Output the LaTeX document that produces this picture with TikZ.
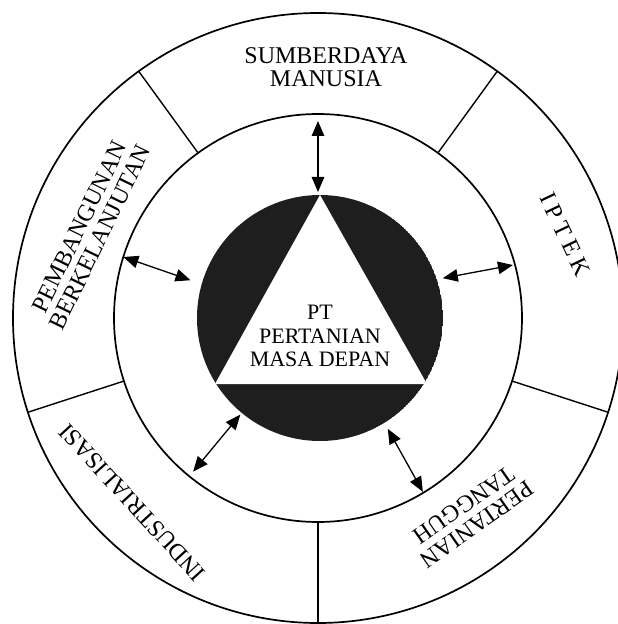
\documentclass[tikz,border=0pt]{standalone}
\usepackage{fontspec}
\setmainfont{Liberation Serif}
\newfontfamily\spacedfont[LetterSpace=22]{Liberation Serif}
\usetikzlibrary{arrows.meta}
\definecolor{CoreDark}{HTML}{1E1E1E}

\begin{document}
\begin{tikzpicture}[x=1pt, y=1pt,
    ringline/.style={line width=1.7pt, draw=black},
    divider/.style={line width=1.4pt, draw=black},
    segtext/.style={align=center, inner sep=0pt, font=\fontsize{24}{23}\selectfont},
    coretext/.style={align=center, inner sep=0pt, font=\fontsize{22}{23.5}\selectfont},
    arrow/.style={{Triangle[length=15pt,width=12.5pt]}-{Triangle[length=15pt,width=12.5pt]},
                  line width=1.3pt, draw=black}
]
\useasboundingbox (-318,-306) rectangle (300,318);

% rings and segment borders
\draw[ringline] (0,0) circle[radius=305];
\draw[ringline] (0,0) circle[radius=204];
\foreach \a in {54,126,198,270,342}
  \draw[divider] (\a:204) -- (\a:305);

% dark disc with white triangle
\begin{scope}
  \clip (2,0) circle[radius=123];
  \fill[CoreDark] (2,0) circle[radius=123];
  \fill[white] (2,123) -- (-103,-66) -- (109,-66) -- cycle;
\end{scope}
\node[coretext] (core) at (2,-18) {PT\\PERTANIAN\\MASA DEPAN};

% segment labels
\node[segtext] (sdm) at (8,251) {SUMBERDAYA\\MANUSIA};
\node[segtext, rotate=-64.5] (iptek) at (18.6:261) {\spacedfont IPTEK};
\node[segtext, rotate=-145] (tangguh) at (-52.3:249) {PERTANIAN\\TANGGUH};
\node[segtext, rotate=132.6] (industri) at (224.8:262) {INDUSTRIALISASI};
\node[segtext, rotate=64] (lanjut) at (159.3:244) {PEMBANGUNAN\\BERKELANJUTAN};

% arrow ends
\coordinate (sdm-in) at (90:126);      \coordinate (sdm-out) at (90:197);
\coordinate (iptek-in) at (17.7:131);  \coordinate (iptek-out) at (15.2:202);
\coordinate (tangguh-in) at (302.2:131); \coordinate (tangguh-out) at (301.1:203);
\coordinate (industri-in) at (231.2:124); \coordinate (industri-out) at (230.9:198);
\coordinate (lanjut-in) at (163.5:133); \coordinate (lanjut-out) at (162.6:204);

\draw[arrow] (sdm-in) -- (sdm-out);
\draw[arrow] (iptek-in) -- (iptek-out);
\draw[arrow] (tangguh-in) -- (tangguh-out);
\draw[arrow] (industri-in) -- (industri-out);
\draw[arrow] (lanjut-in) -- (lanjut-out);
\end{tikzpicture}
\end{document}
